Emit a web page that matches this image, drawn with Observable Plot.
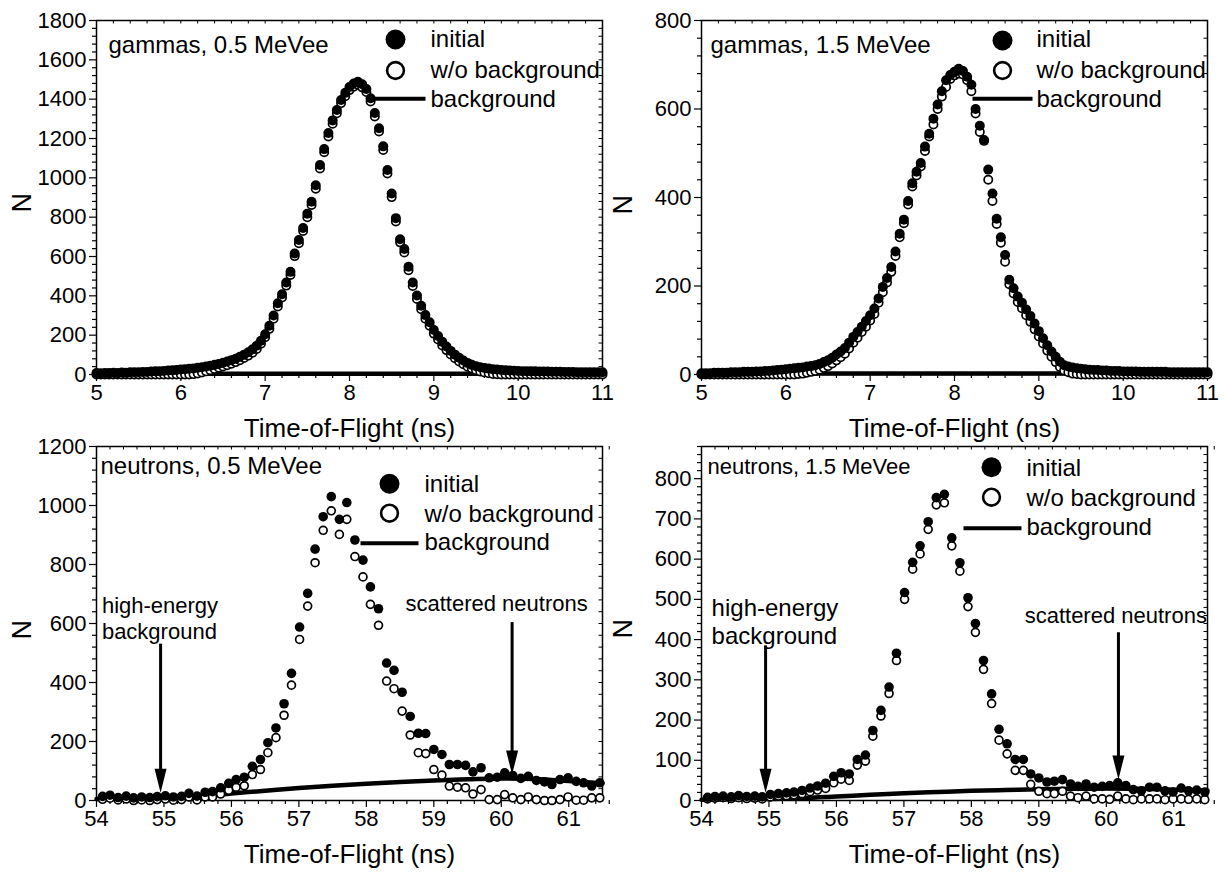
<!DOCTYPE html>
<html>
<head>
<meta charset="utf-8">
<script src="https://cdn.jsdelivr.net/npm/d3@7"></script>
<script src="https://cdn.jsdelivr.net/npm/@observablehq/plot@0.6"></script>
<style>
  html, body { margin: 0; padding: 0; background: #fff; }
  #fig { position: relative; width: 1230px; height: 872px; overflow: hidden; background: #fff; }
</style>
</head>
<body>
<div id="fig"></div>
<script>
// ---- gamma spectra: time-of-flight channels (ns) and counts ----
const gammaT = [
  5.00,5.05,5.10,5.15,5.20,5.25,5.30,5.35,5.40,5.45,
  5.50,5.55,5.60,5.65,5.70,5.75,5.80,5.85,5.90,5.95,
  6.00,6.05,6.10,6.15,6.20,6.25,6.30,6.35,6.40,6.45,
  6.50,6.55,6.60,6.65,6.70,6.75,6.80,6.85,6.90,6.95,
  7.00,7.05,7.10,7.15,7.20,7.25,7.30,7.35,7.40,7.45,
  7.50,7.55,7.60,7.65,7.70,7.75,7.80,7.85,7.90,7.95,
  8.00,8.05,8.10,8.15,8.20,8.25,8.30,8.35,8.40,8.45,
  8.50,8.55,8.60,8.65,8.70,8.75,8.80,8.85,8.90,8.95,
  9.00,9.05,9.10,9.15,9.20,9.25,9.30,9.35,9.40,9.45,
  9.50,9.55,9.60,9.65,9.70,9.75,9.80,9.85,9.90,9.95,
  10.00,10.05,10.10,10.15,10.20,10.25,10.30,10.35,10.40,10.45,
  10.50,10.55,10.60,10.65,10.70,10.75,10.80,10.85,10.90,10.95,
  11.00
];
const g05Initial = [
  7,6,8,7,9,8,10,9,11,11,
  12,13,13,15,16,17,18,20,21,23,
  25,27,29,31,34,37,41,45,49,54,
  60,66,73,80,90,101,113,128,147,172,
  205,248,300,362,408,468,522,615,684,745,
  818,878,962,1065,1146,1228,1292,1345,1396,1432,
  1462,1480,1489,1476,1452,1405,1330,1252,1160,1040,
  920,795,688,638,548,468,402,350,302,266,
  226,196,166,142,120,101,85,71,59,49,
  42,37,33,30,27,25,23,21,20,19,
  18,17,17,16,16,15,15,15,14,14,
  14,13,13,13,12,12,12,12,11,11,
  11
];
const g05Clean = [
  0,0,0,0,0,0,0,0,0,0,
  0,0,0,0,0,0,0,0,0,0,
  0,0,0,2,5,10,16,22,28,34,
  41,47,55,63,73,84,96,111,130,156,
  190,232,284,346,392,452,506,602,668,730,
  800,862,945,1048,1130,1210,1275,1328,1380,1415,
  1446,1463,1472,1460,1436,1388,1312,1236,1142,1022,
  902,778,672,620,530,450,384,332,284,248,
  208,178,148,124,102,83,66,52,40,30,
  22,15,10,6,3,1,0,0,0,0,
  0,0,0,0,0,0,0,0,0,0,
  0,0,0,0,0,0,0,0,0,0,
  0
];
const g15Initial = [
  3,3,3,4,4,4,4,5,5,5,
  6,6,6,7,7,8,8,9,10,11,
  12,13,14,15,16,18,19,21,24,28,
  32,38,45,52,60,72,85,96,108,121,
  134,149,172,198,218,243,278,318,350,392,
  432,458,478,515,544,578,610,640,665,677,
  684,691,686,673,655,600,562,528,463,409,
  352,310,270,214,195,176,162,147,132,115,
  98,82,66,52,40,29,21,18,16,14,
  13,12,11,10,10,9,9,8,8,8,
  7,7,7,7,6,6,6,6,6,6,
  6,5,5,5,5,5,5,5,5,5,
  5
];
const g15Clean = [
  0,0,0,0,0,0,0,0,0,0,
  0,0,0,0,0,0,0,0,0,0,
  0,0,0,1,2,4,6,8,11,15,
  19,25,32,39,47,59,72,83,96,108,
  122,137,162,186,208,232,268,310,342,384,
  425,450,470,505,538,565,600,628,650,668,
  676,680,678,665,640,590,548,530,440,392,
  340,298,255,204,183,164,150,134,119,102,
  86,70,54,40,28,17,9,5,2,1,
  0,0,0,0,0,0,0,0,0,0,
  0,0,0,0,0,0,0,0,0,0,
  0,0,0,0,0,0,0,0,0,0,
  0
];
const gammaBgT = [5, 6, 7, 8, 9, 10, 11];
const g05Bg = [4, 4, 4, 4, 4, 4, 4];
const g15Bg = [2, 2, 2, 2, 2, 2, 2];

// ---- neutron spectra ----
const neutronT = [
  54.09,54.20,54.32,54.44,54.55,54.67,54.79,54.90,55.02,55.14,
  55.26,55.37,55.49,55.61,55.72,55.84,55.96,56.07,56.19,56.31,
  56.43,56.54,56.66,56.78,56.89,57.01,57.13,57.24,57.36,57.48,
  57.60,57.71,57.83,57.95,58.06,58.18,58.30,58.41,58.53,58.65,
  58.77,58.88,59.00,59.12,59.23,59.35,59.47,59.58,59.70,59.82,
  59.94,60.05,60.17,60.29,60.40,60.52,60.64,60.75,60.87,60.99,
  61.11,61.22,61.34,61.46
];
const n05Initial = [
  14,18,10,15,9,12,10,13,16,12,
  14,24,15,28,30,43,58,71,79,116,
  139,196,246,328,431,588,702,852,962,1030,
  953,1010,883,815,724,650,466,441,367,285,
  228,227,173,156,122,122,119,97,111,77,
  79,94,85,75,82,68,63,54,71,77,
  65,60,49,60
];
const n05Clean = [
  4,8,2,5,0,2,0,3,5,1,
  3,12,2,12,12,22,35,45,50,88,
  105,162,213,289,391,546,659,806,916,982,
  902,953,827,758,665,594,405,379,303,222,
  162,159,105,86,49,45,43,22,37,3,
  3,20,9,3,12,3,0,0,3,12,
  1,1,9,9
];
const n15Initial = [
  8,10,11,9,12,10,11,9,15,17,
  19,21,25,31,36,43,60,69,66,102,
  113,174,224,282,366,517,592,633,693,753,
  761,653,591,504,440,348,265,177,141,102,
  102,66,56,46,48,52,41,35,41,33,
  35,37,44,37,27,24,33,33,24,21,
  31,24,26,21
];
const n15Clean = [
  4,6,7,5,7,5,6,4,9,11,
  12,14,17,22,26,30,44,53,50,88,
  98,160,210,266,348,500,575,613,674,735,
  740,633,570,482,418,326,241,150,116,75,
  75,40,23,17,17,23,11,7,11,4,
  4,3,11,4,2,4,4,4,2,4,
  4,3,4,2
];
const neutronBgT = [54, 54.5, 55, 55.5, 56, 56.5, 57, 57.5, 58, 58.5, 59, 59.5, 60, 60.5, 61, 61.5];
const n05Bg = [5, 7, 10, 15, 24, 33, 42, 50, 57, 63, 68, 72, 75, 73, 66, 58];
const n15Bg = [2, 3, 4, 6, 10, 14, 18, 21, 24, 26, 28, 29, 30, 29, 27, 25];

// ---- arrows marking the background regions ----
const n05Notes = [
  {text: "high-energy\nbackground", tx: 54.08, ty: 547, size: 22, x: 54.95, top: 530, tip: 26},
  {text: "scattered neutrons", tx: 58.58, ty: 642, size: 22, x: 60.16, top: 603, tip: 88}
];
const n15Notes = [
  {text: "high-energy\nbackground", tx: 54.15, ty: 388, size: 24, x: 54.95, top: 384, tip: 19},
  {text: "scattered neutrons", tx: 58.79, ty: 442, size: 22, x: 60.18, top: 417, tip: 52}
];

// ---- axis ticks ----
const gammaXTicks = [5, 6, 7, 8, 9, 10, 11];
const neutronXTicks = [54, 55, 56, 57, 58, 59, 60, 61];
const yTicks1800 = [0, 200, 400, 600, 800, 1000, 1200, 1400, 1600, 1800];
const yTicks800 = [0, 200, 400, 600, 800];
const yTicks1200 = [0, 200, 400, 600, 800, 1000, 1200];
const yTicks880 = [0, 100, 200, 300, 400, 500, 600, 700, 800];

const FONT = '"Liberation Sans", Arial, Helvetica, sans-serif';
const legendText = ["initial", "w/o background", "background"];

function minorTicks(lo, hi, step, major) {
  return d3.range(Math.round((hi - lo) / step) + 1)
    .map(i => +(lo + i * step).toFixed(3))
    .filter(v => !major.some(m => Math.abs(m - v) < 1e-6));
}

function rows(t, initial, clean) {
  return t.map((v, i) => ({t: v, initial: initial[i], clean: clean[i]}));
}
function bgRows(t, n) { return t.map((v, i) => ({t: v, n: n[i]})); }

// narrow filled arrowhead, tip at the anchor point
const arrowHead = {draw(ctx) { ctx.moveTo(0, 0); ctx.lineTo(-6, -24); ctx.lineTo(6, -24); ctx.closePath(); }};
// horizontal bar used as the legend swatch of the background line
const bar = w => ({draw(ctx) { ctx.moveTo(0, -2); ctx.lineTo(w, -2); ctx.lineTo(w, 2); ctx.lineTo(0, 2); ctx.closePath(); }});

function panel(p) {
  const ml = 96, mt = 20, mb = 72, innerW = 506, innerH = 354;
  const height = mt + innerH + mb;
  const mr = p.width - ml - innerW;
  const xMinor = minorTicks(p.xDomain[0], p.xDomain[1], 0.2, p.xTicks);
  const yMinor = minorTicks(p.yDomain[0], p.yDomain[1], p.yMinorStep, p.yTicks);
  const data = rows(p.t, p.initial, p.clean);
  const L = p.legend;
  const TL = {frameAnchor: "top-left"};

  const marks = [
    Plot.frame({stroke: "black", strokeWidth: 1.5}),
    // mirrored inward ticks on top and right edges
    Plot.tickX(p.xTicks.concat(xMinor), {x: d => d, insetBottom: innerH - 3.5, stroke: "black", strokeWidth: 1}),
    Plot.tickY(p.yTicks.concat(yMinor), {y: d => d, insetLeft: innerW - 3.5, stroke: "black", strokeWidth: 1}),
    Plot.axisX(p.xTicks, {tickSize: 7, tickPadding: 3, fontSize: 22, tickFormat: d => String(d), strokeWidth: 1.2}),
    Plot.axisX(xMinor, {tickSize: 4, fill: "none", strokeWidth: 1.2}),
    Plot.axisY(p.yTicks, {tickSize: 7, tickPadding: 3, fontSize: 22, tickFormat: d => String(d), strokeWidth: 1.2}),
    Plot.axisY(yMinor, {tickSize: 4, fill: "none", strokeWidth: 1.2}),
    Plot.line(bgRows(p.bgT, p.bg), {x: "t", y: "n", stroke: "black", strokeWidth: 4.5, curve: "monotone-x"}),
    Plot.dot(data, {x: "t", y: "clean", r: p.r - 0.85, fill: "white", stroke: "black", strokeWidth: 1.7}),
    Plot.dot(data, {x: "t", y: "initial", r: p.r, fill: "black", stroke: "none"}),
    // panel title
    Plot.text([p.label], {...TL, dx: p.labelDx, dy: p.labelDy, textAnchor: "start", lineAnchor: "bottom", fontSize: p.labelSize}),
    // legend
    Plot.dot([0], {...TL, dx: L.cx, dy: L.cy1, r: 10, fill: "black", stroke: "none"}),
    Plot.dot([0], {...TL, dx: L.cx, dy: L.cy2, r: 8.4, fill: "white", stroke: "black", strokeWidth: 2.6}),
    Plot.dot([0], {...TL, dx: L.lx, dy: L.ly, r: 1, symbol: bar(L.lw), fill: "black", stroke: "none"}),
    Plot.text([legendText[0]], {...TL, dx: L.tx, dy: L.ty[0], textAnchor: "start", lineAnchor: "bottom", fontSize: 24}),
    Plot.text([legendText[1]], {...TL, dx: L.tx, dy: L.ty[1], textAnchor: "start", lineAnchor: "bottom", fontSize: 24}),
    Plot.text([legendText[2]], {...TL, dx: L.tx, dy: L.ty[2], textAnchor: "start", lineAnchor: "bottom", fontSize: 24}),
    // axis titles
    Plot.text(["Time-of-Flight (ns)"], {frameAnchor: "bottom", dy: 62, lineAnchor: "bottom", fontSize: 26}),
    Plot.text(["N"], {frameAnchor: "left", dx: p.nDx, dy: p.nDy, rotate: -90, fontSize: 27})
  ];
  for (const n of (p.notes || [])) {
    marks.push(
      Plot.ruleX([n], {x: "x", y1: "top", y2: "tip", stroke: "black", strokeWidth: 3, insetBottom: 14}),
      Plot.dot([n], {x: "x", y: "tip", r: 1, symbol: arrowHead, fill: "black", stroke: "none"}),
      Plot.text([n], {x: "tx", y: "ty", text: "text", textAnchor: "start", lineAnchor: "bottom", fontSize: n.size, lineHeight: 1.19})
    );
  }

  const svg = Plot.plot({
    width: p.width, height,
    marginLeft: ml, marginTop: mt, marginRight: mr, marginBottom: mb,
    x: {domain: p.xDomain, label: null},
    y: {domain: p.yDomain, label: null},
    style: {fontFamily: FONT, fontSize: "22px", color: "black", background: "transparent", overflow: "visible"},
    marks
  });
  svg.style.position = "absolute";
  svg.style.left = p.left + "px";
  svg.style.top = p.top + "px";
  document.getElementById("fig").append(svg);
}

panel({
  left: 0, top: 0, width: 615,
  xDomain: [5, 11], xTicks: gammaXTicks,
  yDomain: [0, 1800], yTicks: yTicks1800, yMinorStep: 40,
  t: gammaT, initial: g05Initial, clean: g05Clean, bgT: gammaBgT, bg: g05Bg, r: 5,
  label: "gammas, 0.5 MeVee", labelSize: 24, labelDx: 12, labelDy: 32,
  legend: {cx: 299, cy1: 19, cy2: 50, lx: 276, lw: 53, ly: 78.3, tx: 334, ty: [26.7, 57, 86.7]},
  nDx: -74, nDy: 15
});
panel({
  left: 605, top: 0, width: 625,
  xDomain: [5, 11], xTicks: gammaXTicks,
  yDomain: [0, 800], yTicks: yTicks800, yMinorStep: 40,
  t: gammaT, initial: g15Initial, clean: g15Clean, bgT: gammaBgT, bg: g15Bg, r: 5,
  label: "gammas, 1.5 MeVee", labelSize: 24, labelDx: 9, labelDy: 32,
  legend: {cx: 301, cy1: 20, cy2: 50, lx: 271, lw: 60, ly: 78.3, tx: 335, ty: [26.7, 57, 86.7]},
  nDx: -78, nDy: 17
});
panel({
  left: 0, top: 426, width: 615,
  xDomain: [54, 61.5], xTicks: neutronXTicks,
  yDomain: [0, 1200], yTicks: yTicks1200, yMinorStep: 40,
  t: neutronT, initial: n05Initial, clean: n05Clean, bgT: neutronBgT, bg: n05Bg, r: 4.8,
  label: "neutrons, 0.5 MeVee", labelSize: 24, labelDx: 4, labelDy: 27,
  legend: {cx: 293, cy1: 37.3, cy2: 66.7, lx: 264, lw: 58, ly: 96.7, tx: 328, ty: [45.7, 75.7, 103.3]},
  notes: n05Notes,
  nDx: -74, nDy: 16
});
panel({
  left: 605, top: 426, width: 625,
  xDomain: [54, 61.5], xTicks: neutronXTicks,
  yDomain: [0, 880], yTicks: yTicks880, yMinorStep: 20,
  t: neutronT, initial: n15Initial, clean: n15Clean, bgT: neutronBgT, bg: n15Bg, r: 4.8,
  label: "neutrons, 1.5 MeVee", labelSize: 22, labelDx: 6, labelDy: 27,
  legend: {cx: 290, cy1: 20.7, cy2: 50.7, lx: 262, lw: 58, ly: 81.7, tx: 325, ty: [29, 59, 88]},
  notes: n15Notes,
  nDx: -78, nDy: 15
});
</script>
</body>
</html>
